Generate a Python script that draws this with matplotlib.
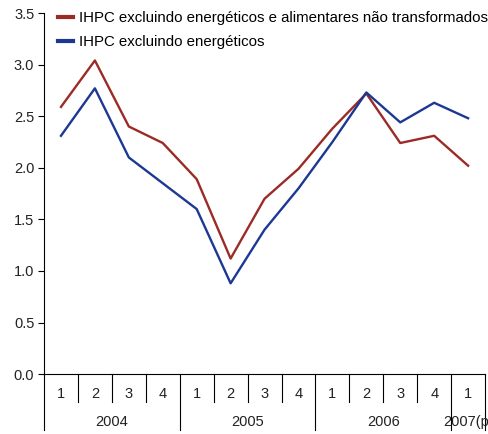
import matplotlib.pyplot as plt
from matplotlib import transforms

plt.rcParams["font.family"] = ["Liberation Sans", "DejaVu Sans"]

quarters = ["1", "2", "3", "4", "1", "2", "3", "4", "1", "2", "3", "4", "1"]
years = ["2004", "2005", "2006", "2007(p)"]
year_spans = [(0, 3), (4, 7), (8, 11), (12, 12)]

ex_energy_food = [2.59, 3.04, 2.40, 2.24, 1.89, 1.12, 1.70, 1.99, 2.38, 2.72, 2.24, 2.31, 2.02]
ex_energy = [2.31, 2.77, 2.10, 1.85, 1.60, 0.88, 1.40, 1.80, 2.25, 2.73, 2.44, 2.63, 2.48]

label_a = "IHPC excluindo energéticos e alimentares não transformados"
label_b = "IHPC excluindo energéticos"

red = "#9b2b26"
blue = "#1c3893"
txt = "#222222"

fig = plt.figure(figsize=(4.89, 4.34), dpi=100)
ax = fig.add_axes([0.09, 0.138, 0.902, 0.832])

x = list(range(len(quarters)))
ax.plot(x, ex_energy_food, color=red, lw=1.7, label=label_a)
ax.plot(x, ex_energy, color=blue, lw=1.7, label=label_b)

ax.set_xlim(-0.5, len(quarters) - 0.5)
ax.set_ylim(0, 3.5)
ax.set_yticks([0, 0.5, 1.0, 1.5, 2.0, 2.5, 3.0, 3.5])
ax.set_yticklabels([f"{v:.1f}" for v in ax.get_yticks()])
ax.tick_params(axis="y", direction="out", length=4, width=0.8, labelsize=10.5,
               color="black", labelcolor=txt, pad=3)
ax.tick_params(axis="x", bottom=False, labelbottom=False)
for side in ("top", "right"):
    ax.spines[side].set_visible(False)
ax.spines["left"].set_linewidth(0.8)
ax.spines["bottom"].set_linewidth(0.8)

# category axis drawn by hand: quarter cells and year groups below y=0
trans = transforms.blended_transform_factory(ax.transData, ax.transAxes)
q_depth = -0.0776
y_depth = -0.155
year_edges = {s - 0.5 for s, _ in year_spans} | {len(quarters) - 0.5}
for i in range(len(quarters) + 1):
    xe = i - 0.5
    bottom = y_depth if xe in year_edges else q_depth
    ax.plot([xe, xe], [0, bottom], transform=trans, color="black", lw=0.8,
            clip_on=False)
for i, q in enumerate(quarters):
    ax.text(i, -0.0554, q, transform=trans, ha="center", va="center",
            fontsize=10.5, color=txt)
for yr, (s, e) in zip(years, year_spans):
    ax.text((s + e) / 2, -0.133, yr, transform=trans, ha="center",
            va="center", fontsize=10.5, color=txt)

ax.legend(loc="upper left", bbox_to_anchor=(0.012, 1.03), frameon=False,
          fontsize=10.8, handlelength=1.0, handletextpad=0.4,
          labelspacing=0.65, borderaxespad=0.2)
for line in ax.get_legend().get_lines():
    line.set_linewidth(3)

fig.savefig("out.png", dpi=100)
